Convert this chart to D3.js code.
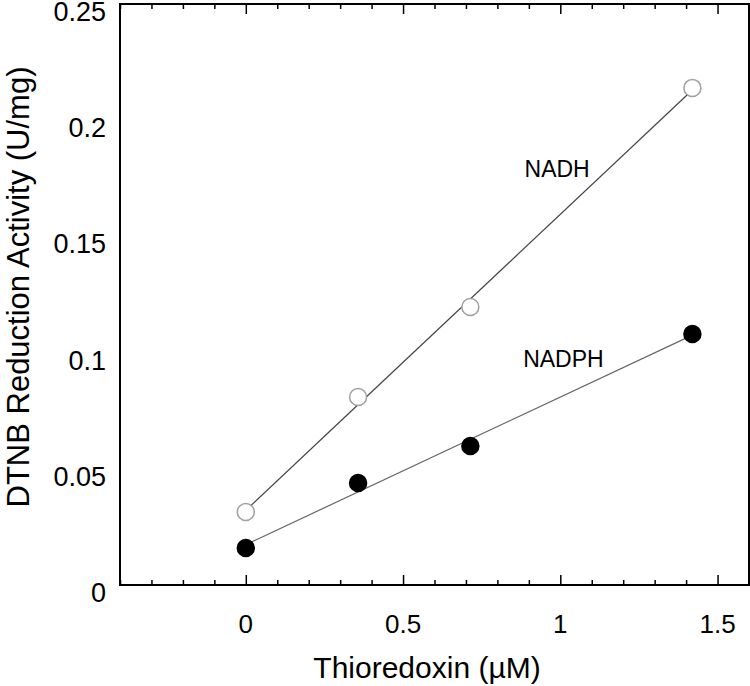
<!DOCTYPE html>
<html>
<head>
<meta charset="utf-8">
<script src="https://cdn.jsdelivr.net/npm/d3@7"></script>
<style>
  body { margin: 0; background: #fff; }
  text { font-family: "Liberation Sans", Arial, sans-serif; }
</style>
</head>
<body>
<div id="chart"></div>
<script>
// thioredoxin concentration (µM)
var thioredoxin = [0, 0.357, 0.714, 1.42];
var nadh = [0.0314, 0.0809, 0.1196, 0.2139];
var nadph = [0.0159, 0.0439, 0.0598, 0.108];
var xMajor = [0, 0.5, 1, 1.5];
var yTicks = [0, 0.05, 0.1, 0.15, 0.2, 0.25];
var yTickLabels = ["0", "0.05", "0.1", "0.15", "0.2", "0.25"];

var width = 750, height = 686;
var plotL = 120, plotR = 749, plotT = 4, plotB = 585;

var svg = d3.select("#chart").append("svg")
  .attr("width", width)
  .attr("height", height);

var x = d3.scaleLinear().domain([-0.4, 1.6]).range([plotL, plotR]);
var y = d3.scaleLinear().domain([0, 0.25]).range([plotB, plotT]);

var minor = d3.range(-4, 17).map(d => d / 10).filter(d => xMajor.indexOf(d) < 0);

// bottom ticks (inward)
svg.append("g")
  .attr("transform", `translate(0,${plotB})`)
  .call(d3.axisTop(x).tickValues(minor).tickSize(5).tickFormat(""))
  .call(g => g.select(".domain").remove());
svg.append("g")
  .attr("transform", `translate(0,${plotB})`)
  .call(d3.axisTop(x).tickValues(xMajor).tickSize(10).tickFormat(""))
  .call(g => g.select(".domain").remove());
// top ticks (inward)
svg.append("g")
  .attr("transform", `translate(0,${plotT})`)
  .call(d3.axisBottom(x).tickValues(minor).tickSize(5).tickFormat(""))
  .call(g => g.select(".domain").remove());
svg.append("g")
  .attr("transform", `translate(0,${plotT})`)
  .call(d3.axisBottom(x).tickValues(xMajor).tickSize(10).tickFormat(""))
  .call(g => g.select(".domain").remove());
svg.selectAll(".tick line").attr("stroke", "#000").attr("stroke-width", 1.5);

// frame
svg.append("rect")
  .attr("x", plotL).attr("y", plotT)
  .attr("width", plotR - plotL).attr("height", plotB - plotT)
  .attr("fill", "none").attr("stroke", "#000").attr("stroke-width", 2);

// x tick labels
svg.selectAll(".xlab").data(xMajor).enter().append("text")
  .attr("x", d => x(d))
  .attr("y", 633)
  .attr("text-anchor", "middle")
  .attr("font-size", "26px")
  .text(d => d);

// y tick labels
svg.selectAll(".ylab").data(yTicks).enter().append("text")
  .attr("x", 106)
  .attr("y", d => y(d) + 17)
  .attr("text-anchor", "end")
  .attr("font-size", "27px")
  .text((d, i) => yTickLabels[i]);

// axis titles
svg.append("text")
  .attr("x", 427)
  .attr("y", 678)
  .attr("text-anchor", "middle")
  .attr("font-size", "30px")
  .text("Thioredoxin (µM)");
svg.append("text")
  .attr("transform", "translate(29,287) rotate(-90)")
  .attr("text-anchor", "middle")
  .attr("font-size", "31px")
  .text("DTNB Reduction Activity (U/mg)");

// linear fit
function fit(xs, ys) {
  var mx = d3.mean(xs), my = d3.mean(ys);
  var sxy = d3.sum(xs, (v, i) => (v - mx) * (ys[i] - my));
  var sxx = d3.sum(xs, v => (v - mx) * (v - mx));
  var b = sxy / sxx;
  return { a: my - b * mx, b: b };
}

var series = [
  { name: "NADH", vals: nadh, fill: "#fff", stroke: "#a0a0a0", line: "#444", lx: 0.99, ly: 0.1755 },
  { name: "NADPH", vals: nadph, fill: "#000", stroke: "#000", line: "#666", lx: 1.01, ly: 0.094 }
];

series.forEach(s => {
  var f = fit(thioredoxin, s.vals);
  var x0 = d3.min(thioredoxin), x1 = d3.max(thioredoxin);
  svg.append("line")
    .attr("x1", x(x0)).attr("y1", y(f.a + f.b * x0))
    .attr("x2", x(x1)).attr("y2", y(f.a + f.b * x1))
    .attr("stroke", s.line).attr("stroke-width", 1.2);

  svg.selectAll(null).data(thioredoxin).enter().append("circle")
    .attr("cx", d => x(d))
    .attr("cy", (d, i) => y(s.vals[i]))
    .attr("r", 8.5)
    .attr("fill", s.fill)
    .attr("stroke", s.stroke)
    .attr("stroke-width", 1.5);

  svg.append("text")
    .attr("x", x(s.lx))
    .attr("y", y(s.ly))
    .attr("text-anchor", "middle")
    .attr("font-size", "23px")
    .text(s.name);
});
</script>
</body>
</html>
